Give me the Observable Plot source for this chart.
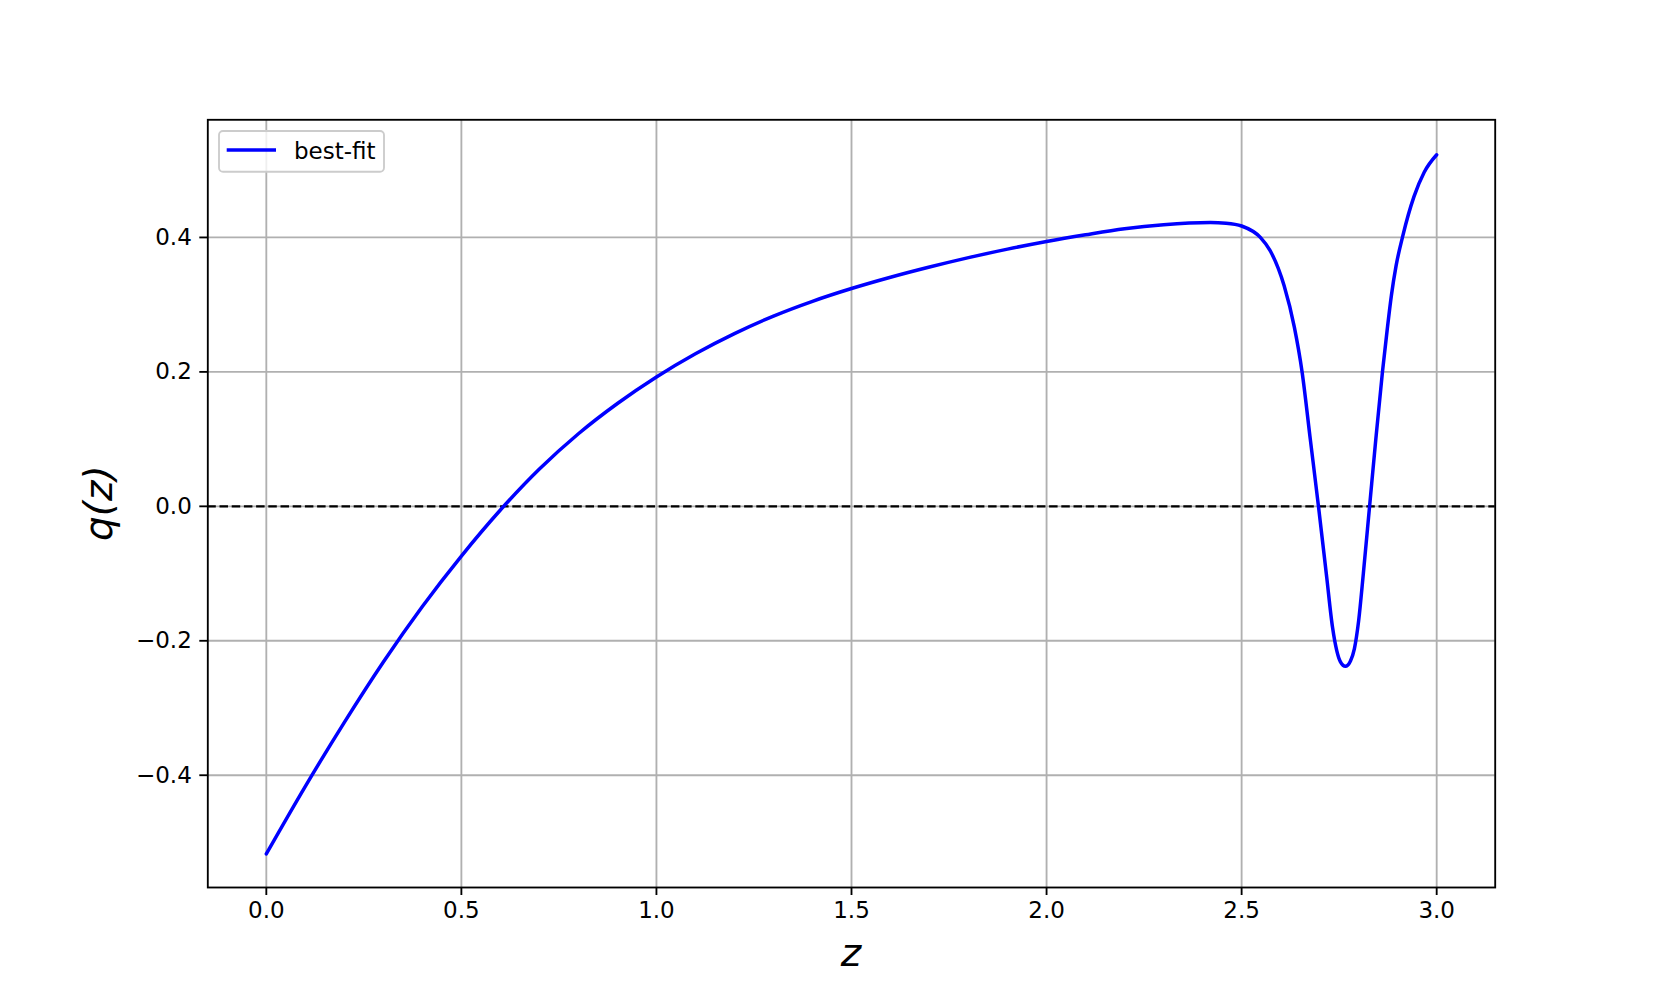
<!DOCTYPE html>
<html>
<head>
<meta charset="utf-8">
<script src="https://cdn.jsdelivr.net/npm/d3@7"></script>
<script src="https://cdn.jsdelivr.net/npm/@observablehq/plot@0.6"></script>
<style>
  html, body { margin: 0; padding: 0; background: white; overflow: hidden; }
</style>
</head>
<body>
<div id="chart"></div>
<script>
// Data
const zValues = [0.0, 0.1, 0.2, 0.3, 0.4, 0.5, 0.6, 0.7, 0.8, 0.9, 1.0, 1.1, 1.2, 1.3, 1.4, 1.5, 1.6, 1.7, 1.8, 1.9, 2.0, 2.1, 2.2, 2.3, 2.42, 2.46, 2.5, 2.548, 2.574, 2.609, 2.635, 2.655, 2.676, 2.697, 2.718, 2.733, 2.744, 2.753, 2.766, 2.779, 2.789, 2.800, 2.812, 2.828, 2.844, 2.861, 2.873, 2.884, 2.896, 2.913, 2.942, 2.968, 3.0];
const qValues = [-0.517, -0.4165, -0.3213, -0.2315, -0.149, -0.074, -0.0055, 0.0555, 0.108, 0.153, 0.1925, 0.227, 0.257, 0.283, 0.305, 0.324, 0.3408, 0.356, 0.370, 0.3826, 0.394, 0.404, 0.413, 0.419, 0.4222, 0.4212, 0.417, 0.400, 0.3795, 0.328, 0.267, 0.200, 0.100, 0.0, -0.105, -0.180, -0.215, -0.231, -0.238, -0.230, -0.212, -0.170, -0.100, 0.0, 0.100, 0.200, 0.262, 0.314, 0.358, 0.402, 0.461, 0.497, 0.523];
const xTicks = [0.0, 0.5, 1.0, 1.5, 2.0, 2.5, 3.0];
const yTicks = [-0.4, -0.2, 0.0, 0.2, 0.4];
const seriesName = "best-fit";
const xLabel = "z";
const yLabel = "q(z)";

const data = zValues.map((z, i) => ({z, q: qValues[i]}));

const W = 1661, H = 997;
const mL = 207.3, mR = 166.3, mT = 119.3, mB = 110;
const fmt = d3.format(".1f");

const plot = Plot.plot({
  width: W, height: H,
  marginLeft: mL, marginRight: mR, marginTop: mT, marginBottom: mB,
  style: {fontFamily: "'DejaVu Sans', sans-serif", fontSize: "23px", background: "white", color: "black"},
  x: {domain: [-0.15, 3.15], label: null},
  y: {domain: [-0.567, 0.575], label: null},
  marks: [
    Plot.gridX(xTicks, {stroke: "#b0b0b0", strokeOpacity: 1, strokeWidth: 1.85}),
    Plot.gridY(yTicks, {stroke: "#b0b0b0", strokeOpacity: 1, strokeWidth: 1.85}),
    Plot.ruleY([0], {stroke: "black", strokeWidth: 2.3, strokeDasharray: "8.5,3.7"}),
    Plot.line(data, {x: "z", y: "q", stroke: "blue", strokeWidth: 3.5, curve: "monotone-x"}),
    Plot.frame({stroke: "black", strokeWidth: 1.85}),
    Plot.axisX(xTicks, {tickSize: 8, tickPadding: 6, strokeWidth: 1.85, tickFormat: fmt, label: null, fontSize: 23}),
    Plot.axisY(yTicks, {tickSize: 8, tickPadding: 8, strokeWidth: 1.85, tickFormat: fmt, label: null, fontSize: 23})
  ]
});

document.getElementById("chart").appendChild(plot);

const svg = d3.select(plot);
const font = "'DejaVu Sans', sans-serif";

// axis labels
svg.append("text")
  .attr("x", (mL + (W - mR)) / 2)
  .attr("y", 966)
  .attr("text-anchor", "middle")
  .attr("font-family", font)
  .attr("font-style", "italic")
  .attr("font-size", 39)
  .attr("fill", "black")
  .text(xLabel);

svg.append("text")
  .attr("transform", `translate(112,${(mT + (H - mB)) / 2}) rotate(-90)`)
  .attr("text-anchor", "middle")
  .attr("font-family", font)
  .attr("font-style", "italic")
  .attr("font-size", 39)
  .attr("fill", "black")
  .text(yLabel);

// legend
const lg = svg.append("g");
lg.append("rect")
  .attr("x", 219).attr("y", 131).attr("width", 165).attr("height", 40.7)
  .attr("rx", 4).attr("ry", 4)
  .attr("fill", "white").attr("fill-opacity", 0.8)
  .attr("stroke", "#cccccc").attr("stroke-width", 1.85);
lg.append("line")
  .attr("x1", 226.7).attr("x2", 276).attr("y1", 150).attr("y2", 150)
  .attr("stroke", "blue").attr("stroke-width", 3.5);
lg.append("text")
  .attr("x", 294).attr("y", 158.7)
  .attr("text-anchor", "start")
  .attr("font-family", font).attr("font-size", 23).attr("fill", "black")
  .text(seriesName);
</script>
</body>
</html>
